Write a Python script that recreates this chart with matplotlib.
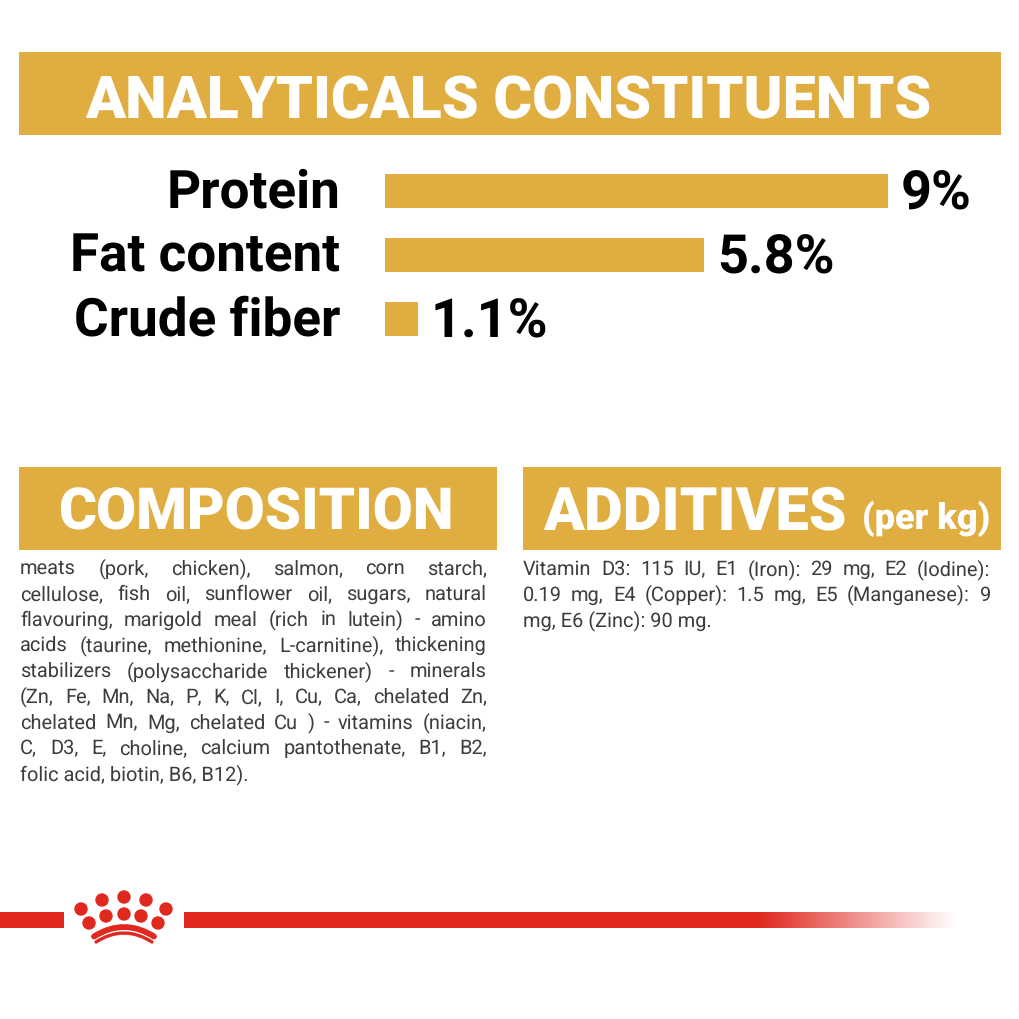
import numpy as np
import matplotlib
matplotlib.use("Agg")
import matplotlib.pyplot as plt
from matplotlib.patches import Rectangle, Circle, PathPatch
from matplotlib.path import Path
from matplotlib.transforms import ScaledTranslation

# -----------------------------
# Data
# -----------------------------
nutrients = ["Protein", "Fat content", "Crude fiber"]
value_labels = ["9%", "5.8%", "1.1%"]
# bar lengths as drawn in the picture (not proportional for the last one)
bar_lengths = [9.0, 5.71, 0.59]

composition_lines = [
    "meats (pork, chicken), salmon, corn starch,",
    "cellulose, fish oil, sunflower oil, sugars, natural",
    "flavouring, marigold meal (rich in lutein) - amino",
    "acids (taurine, methionine, L-carnitine), thickening",
    "stabilizers (polysaccharide thickener) - minerals",
    "(Zn, Fe, Mn, Na, P, K, Cl, I, Cu, Ca, chelated Zn,",
    "chelated Mn, Mg, chelated Cu ) - vitamins (niacin,",
    "C, D3, E, choline, calcium pantothenate, B1, B2,",
    "folic acid, biotin, B6, B12).",
]
additives_lines = [
    "Vitamin D3: 115 IU, E1 (Iron): 29 mg, E2 (Iodine):",
    "0.19 mg, E4 (Copper): 1.5 mg, E5 (Manganese): 9",
    "mg, E6 (Zinc): 90 mg.",
]

GOLD = "#e0ae40"
RED = "#e0281f"
BODY = "#3d3d3d"
HEAD_FONT = "Roboto"
BODY_FONT = "Roboto"
BODY_SIZE = 20.3

# -----------------------------
# Page in pixel coordinates
# -----------------------------
plt.rcParams["font.family"] = [BODY_FONT, "DejaVu Sans"]
plt.rcParams["text.hinting"] = "none"
plt.rcParams["text.hinting_factor"] = 1
fig = plt.figure(figsize=(10.2, 10.2), dpi=100, facecolor="white")
page = fig.add_axes([0, 0, 1, 1])
page.set_xlim(0, 1020)
page.set_ylim(1020, 0)
page.axis("off")


def px(size):
    return size * 0.72


def fitted_text(x, y, s, width, size, **kw):
    # shrink or grow the font until the text covers the wanted width
    t = page.text(x, y, s, fontsize=px(size), va="baseline", **kw)
    r = fig.canvas.get_renderer()
    w = t.get_window_extent(r).width
    t.set_fontsize(px(size) * width / w)
    return t


def justified(x0, x1, y, line, size):
    words = line.split(" ")
    r = fig.canvas.get_renderer()
    items = [page.text(0, y, w, fontsize=px(size), color=BODY, va="baseline") for w in words]
    widths = [t.get_window_extent(r).width for t in items]
    gap = (x1 - x0 - sum(widths)) / (len(words) - 1)
    x = x0
    for t, w in zip(items, widths):
        t.set_x(x)
        x += w + gap


# -----------------------------
# Header bands
# -----------------------------
page.add_patch(Rectangle((19, 53), 982, 83, color=GOLD, lw=0))
page.add_patch(Rectangle((19, 468), 478, 83, color=GOLD, lw=0))
page.add_patch(Rectangle((523, 468), 478, 83, color=GOLD, lw=0))

fitted_text(85, 118, "ANALYTICALS CONSTITUENTS", 847, 60, color="white", fontweight="black", family=HEAD_FONT)
fitted_text(58, 529, "COMPOSITION", 395, 60, color="white", fontweight="black", family=HEAD_FONT)
fitted_text(543, 529, "ADDITIVES", 304, 60, color="white", fontweight="black", family=HEAD_FONT)
fitted_text(862, 529, "(per kg)", 127, 33, color="white", fontweight="black", family=HEAD_FONT)

# -----------------------------
# Bars
# -----------------------------
ax = fig.add_axes([385 / 1020, 1 - 352 / 1020, 503 / 1020, 192 / 1020])
ax.patch.set_alpha(0)
ax.barh(range(len(nutrients)), bar_lengths, height=0.53, color=GOLD)
ax.set_xlim(0, 9)
ax.set_ylim(2.5, -0.5)
ax.set_xticks([])
ax.set_yticks(range(len(nutrients)), nutrients, fontsize=px(53), fontweight="bold", color="black")
ax.tick_params(axis="y", length=0, pad=px(45))
up = ScaledTranslation(0, px(4) / 72, fig.dpi_scale_trans)
for lab in ax.get_yticklabels():
    lab.set_verticalalignment("center_baseline")
    lab.set_transform(lab.get_transform() + up)
for s in ax.spines.values():
    s.set_visible(False)
for i, (v, lab) in enumerate(zip(bar_lengths, value_labels)):
    ax.annotate(lab, (v, i), xytext=(px(13), px(3)), textcoords="offset points", va="center_baseline",
                fontsize=px(53.5), fontweight="bold", color="black", annotation_clip=False)

# -----------------------------
# Body text
# -----------------------------
for i, line in enumerate(composition_lines):
    y = 574 + i * 25.75
    if i < len(composition_lines) - 1:
        justified(20, 487, y, line, BODY_SIZE)
    else:
        page.text(20, y, line, fontsize=px(BODY_SIZE), color=BODY, va="baseline")

for i, line in enumerate(additives_lines):
    y = 575 + i * 25.6
    if i < len(additives_lines) - 1:
        justified(523, 990, y, line, BODY_SIZE)
    else:
        page.text(523, y, line, fontsize=px(BODY_SIZE), color=BODY, va="baseline")

# -----------------------------
# Red line and crown
# -----------------------------
page.add_patch(Rectangle((0, 913), 64, 16, color=RED, lw=0))
fade = np.ones((1, 771, 4))
fade[..., :3] = matplotlib.colors.to_rgb(RED)
fade[..., 3] = np.clip((955 - np.arange(184, 955)) / 195, 0, 1)
page.imshow(fade, extent=(184, 955, 929, 913), aspect="auto", zorder=3)
page.set_xlim(0, 1020)
page.set_ylim(1020, 0)

crown_x = [81, 102, 124, 146, 166, 89, 106, 124, 141, 158]
crown_y = [910, 901, 898, 901, 910, 924, 917, 915, 917, 924]
for cx, cy in zip(crown_x, crown_y):
    page.add_patch(Circle((cx, cy), 6.7, color=RED, lw=0))

for pts, lw in [([(94, 937.5), (124, 918.5), (154, 937.5)], 4.2), ([(96, 943), (124, 925), (152, 943)], 2.4)]:
    arc = Path(pts, [Path.MOVETO, Path.CURVE3, Path.CURVE3])
    page.add_patch(PathPatch(arc, fill=False, edgecolor=RED, lw=lw, capstyle="round"))

fig.savefig("out.png", dpi=100)
